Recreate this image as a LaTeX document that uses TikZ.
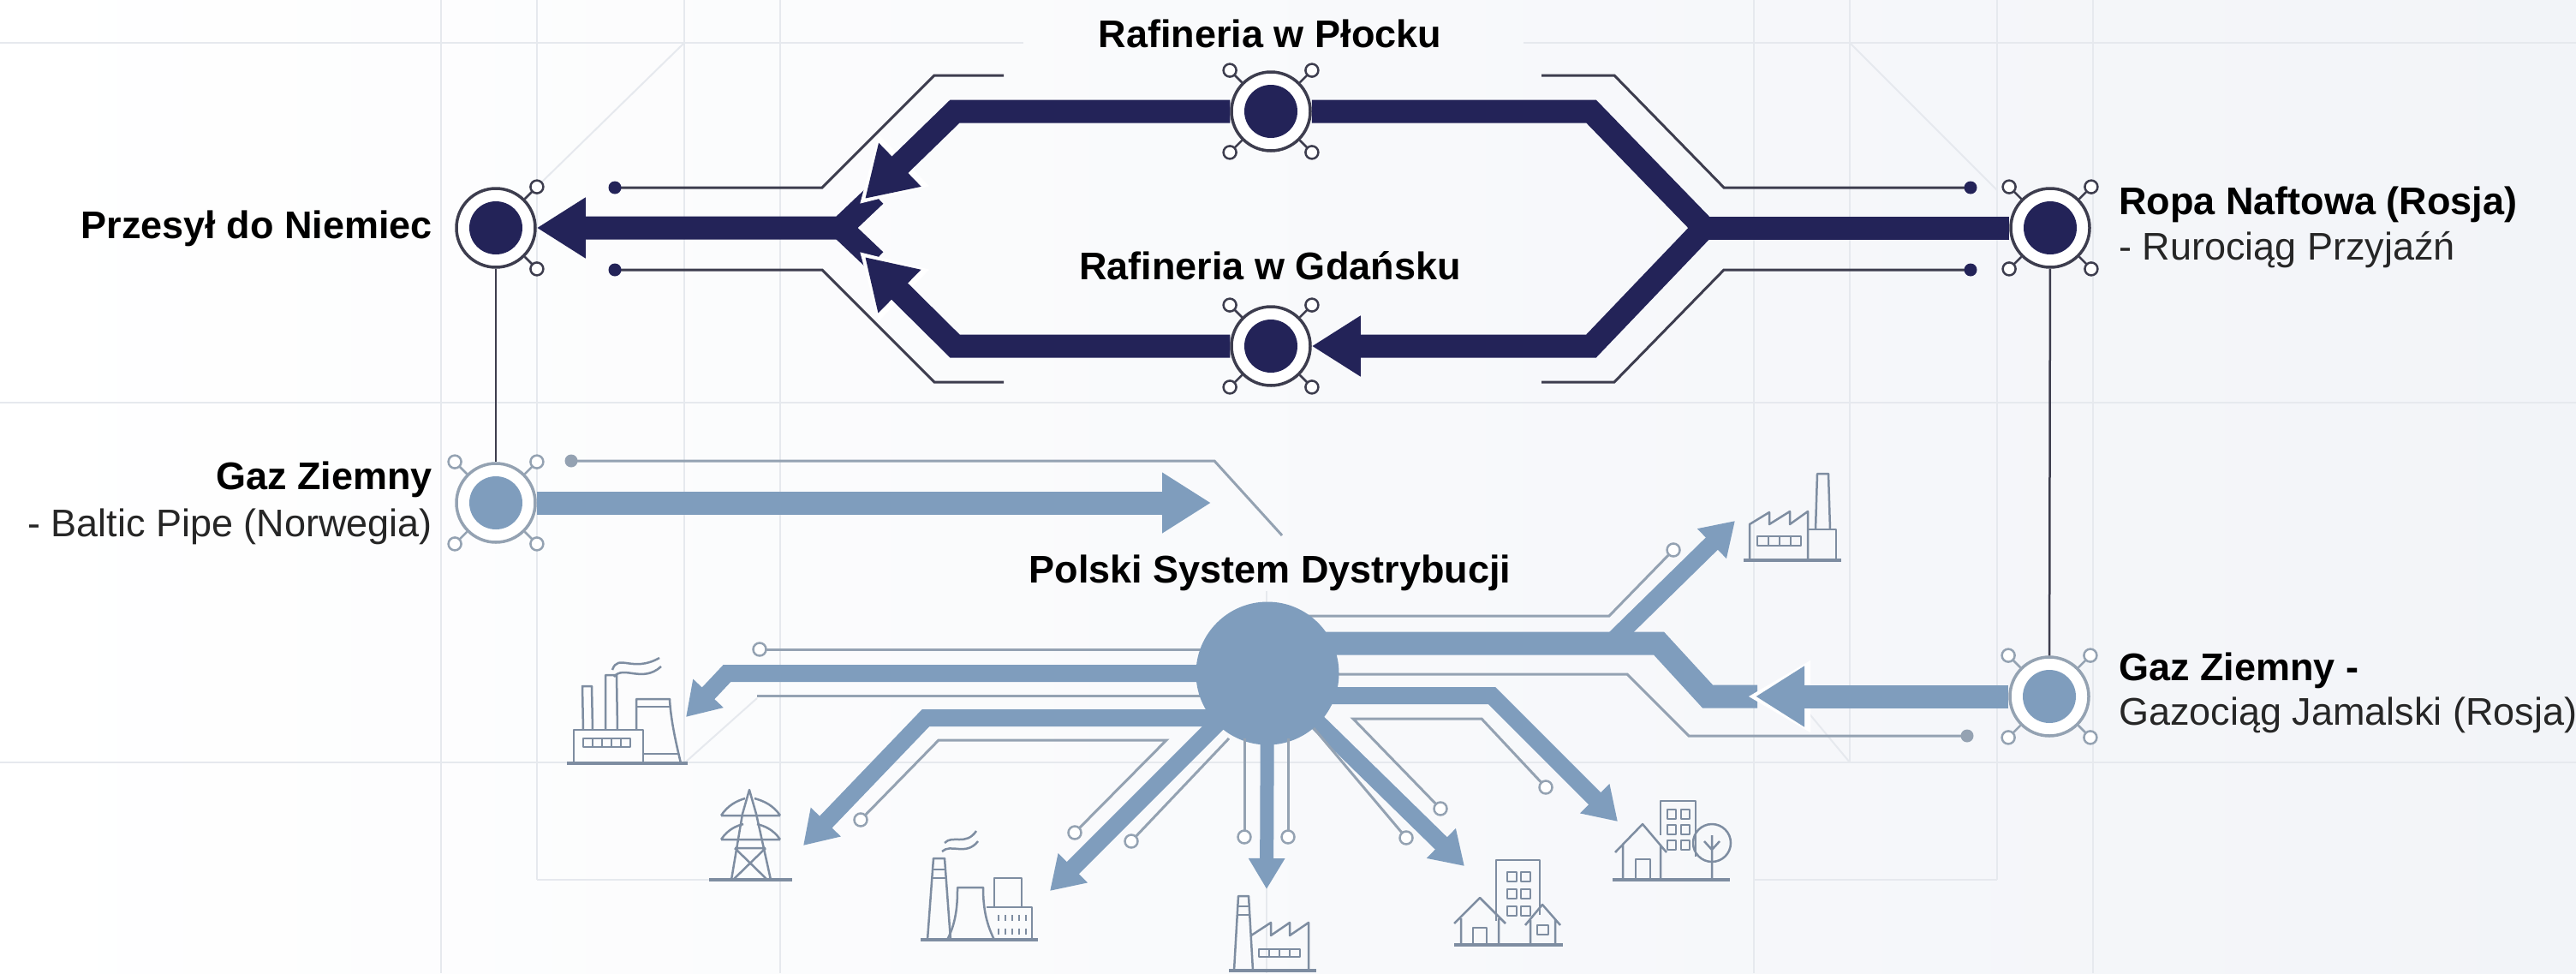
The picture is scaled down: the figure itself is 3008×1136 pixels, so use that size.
\documentclass[tikz,border=0pt]{standalone}
\usepackage{fontspec}
\setmainfont{Liberation Sans}
\usetikzlibrary{arrows.meta,backgrounds}
\definecolor{navy}{HTML}{232358}
\definecolor{steel}{HTML}{7F9DBD}
\definecolor{wire}{HTML}{3D3D4E}
\definecolor{wirelight}{HTML}{94A2B2}
\definecolor{iconline}{HTML}{7E8DA1}
\definecolor{gridline}{HTML}{E6E9EE}
\definecolor{bgright}{HTML}{F2F4F8}
\tikzset{
  ring/.style={circle,draw=#1,line width=3.5pt,fill=white,minimum size=92pt,inner sep=0pt},
  core/.style={circle,fill=#1,minimum size=62pt,inner sep=0pt},
  spur/.style={draw=#1,line width=2.5pt},
  tipring/.style={circle,draw=#1,line width=2.5pt,fill=white,minimum size=15pt,inner sep=0pt},
  dot/.style={circle,fill=#1,minimum size=15pt,inner sep=0pt},
  flow/.style={draw=#1,line width=27pt,-{Triangle[length=57pt,width=67pt,fill=#1]}},
  flowplain/.style={draw=#1,line width=27pt},
  branch/.style={draw=steel,line width=20pt,-{Triangle[length=38pt,width=46pt,fill=steel]}},
  halo/.style={draw=white,line width=1pt,shorten >=-8pt,-{Triangle[length=72pt,width=84pt,fill=white]}},
  wiredark/.style={draw=wire,line width=3pt},
  wirepale/.style={draw=wirelight,line width=3pt},
  icon/.style={draw=iconline,line width=2.5pt,line join=round},
  iconbase/.style={draw=iconline,line width=4pt},
  grid/.style={draw=gridline,line width=2pt},
  bold/.style={font=\bfseries\fontsize{45}{45}\selectfont,inner sep=0pt,text=black},
  light/.style={font=\fontsize{45}{45}\selectfont,inner sep=0pt,text=black!85}
}
\begin{document}
\begin{tikzpicture}[x=1pt,y=-1pt,>=latex]
\useasboundingbox (0,0) rectangle (3008,1136);

\foreach \n/\px/\py/\c/\s in {niemcy/579/266/navy/wire,plock/1484/130/navy/wire,gdansk/1484/404/navy/wire,ropa/2394/266/navy/wire,baltic/579/587/steel/wirelight,jamal/2393/813/steel/wirelight}
{
    \node[ring=\s] (\n) at (\px,\py) {};
    \node[core=\c] (\n core) at (\n) {};
}
\node[circle,fill=steel,minimum size=167pt,inner sep=0pt] (hub) at (1480,786) {};

\begin{scope}[on background layer]
\shade[left color=white,right color=bgright] (0,0) rectangle (3008,1136);
\foreach \x in {515,911,2048,2444}
    \draw[grid] (\x,0) -- (\x,1136);
\foreach \x in {799,2160}
    \draw[grid] (\x,0) -- (\x,890);
\foreach \x in {627,2332}
    \draw[grid] (\x,0) -- (\x,1027);
\draw[grid] (1479,690) -- (1479,1136);
\draw[grid] (0,50) -- (1195,50);
\draw[grid] (1779,50) -- (3008,50);
\draw[grid] (0,470) -- (3008,470);
\draw[grid] (0,890) -- (3008,890);
\draw[grid] (627,1027) -- (830,1027);
\draw[grid] (2048,1027) -- (2332,1027);
\draw[grid] (799,50) -- (627,218);
\draw[grid] (2160,50) -- (2332,222);
\draw[grid] (884,815) -- (800,890);
\draw[grid] (2160,890) -- (2110,830);

% lines that run into the hub
\coordinate (hubA) at (1480,751);
\coordinate (hubB) at (1480,812);
\coordinate (hubC) at (1480,786);
\coordinate (hubD) at (1480,838);
\draw[flowplain=steel] (hubA) -- (1937,751) -- (1994,813) -- (2052,813);
\draw[branch] (1880,751) -- (2026,608);
\draw[branch] (hubB) -- (1742,812) -- (1889,959);
\draw[branch] (hubC) -- (1710,1011);
\draw[branch] (hubC) -- (849,786) -- (801,837);
\draw[branch] (hubD) -- (1081,838) -- (938,987);
\draw[branch] (hubC) -- (1226,1040);
\draw[draw=steel,line width=16pt,-{Triangle[length=36pt,width=40pt,fill=steel]}] (hubC) -- (1479,1038);
\draw[wirepale] (1480,719) -- (1879,719) -- (1954,642) node[tipring=wirelight] (tipE) {};
\draw[wirepale] (1480,787) -- (1900,787) -- (1972,859) -- (2297,859) node[dot=wirelight] (dotE) {};
\draw[wirepale] (1480,758) -- (887,758) node[tipring=wirelight] (tipW) {};
\draw[wirepale] (1480,812) -- (884,812);
\end{scope}

% crude top loop
\coordinate (jR) at (1990,266);
\coordinate (jL) at (982,266);
\coordinate (chevU) at (1022,228);
\coordinate (chevD) at (1022,304);
\coordinate (tipU) at (1010,232);
\coordinate (tipD) at (1010,300);
\draw[flowplain=navy] (ropa) -- (jR);
\draw[flowplain=navy] (plock) -- (1858,130) -- (jR);
\draw[flow=navy] (jR) -- (1858,404) -- (gdansk);
\draw[flowplain=navy] (chevD) -- (jL);
\draw[flow=navy] (chevU) -- (jL) -- (niemcy);
\draw[halo] (1060,183) -- (tipU);
\draw[halo] (1060,349) -- (tipD);
\draw[flow=navy] (plock) -- (1115,130) -- (tipU);
\draw[flow=navy] (gdansk) -- (1115,404) -- (tipD);

\draw[wiredark] (1172,88) -- (1091,88) -- (960,219) -- (718,219) node[dot=navy] (dotNW) {};
\draw[wiredark] (1172,446) -- (1091,446) -- (960,315) -- (718,315) node[dot=navy] (dotSW) {};
\draw[wiredark] (1800,88) -- (1885,88) -- (2013,219) -- (2301,219) node[dot=navy] (dotNE) {};
\draw[wiredark] (1800,446) -- (1885,446) -- (2013,315) -- (2301,315) node[dot=navy] (dotSE) {};
\draw[draw=wire,line width=2.5pt] (niemcy) -- (baltic);
\draw[draw=wire,line width=2.5pt] (ropa) -- (jamal);

\draw[flow=steel] (baltic) -- (1414,587);
\draw[wirepale] (1497,625) -- (1418,538) -- (667,538) node[dot=wirelight] (dotB) {};
\draw[halo] (2100,813) -- (2050,813);
\draw[flow=steel] (jamal) -- (2050,813);

% thin wires below the hub
\draw[wirepale] (1805,919) node[tipring=wirelight] (tipF) {} -- (1730,839) -- (1580,839) -- (1682,944) node[tipring=wirelight] (tipG) {};
\draw[wirepale] (hub) -- (1642,978) node[tipring=wirelight] (tipH) {};
\draw[wirepale] (1005,957) node[tipring=wirelight] (tipK) {} -- (1096,864) -- (1362,864) -- (1255,972) node[tipring=wirelight] (tipL) {};
\draw[wirepale] (1435,862) -- (1321,982) node[tipring=wirelight] (tipM) {};
\foreach \x in {1453,1504}
    \draw[wirepale] (\x,862) -- (\x,977) node[tipring=wirelight] (tipV\x) {};

% spurs
\foreach \n/\c in {plock/wire,gdansk/wire,ropa/wire,baltic/wirelight,jamal/wirelight}
{
    \foreach \a in {45,135,225,315}
        \draw[spur=\c] (\n.\a) -- ++(-\a:20) node[tipring=\c] (\n tip\a) {};
}
\foreach \a in {45,315}
    \draw[spur=wire] (niemcy.\a) -- ++(-\a:20) node[tipring=wire] (niemcy tip\a) {};

% labels
\node[bold] (plockname) at (1483,39) {Rafineria w Płocku};
\node[bold] (gdanskname) at (1483,310) {Rafineria w Gdańsku};
\node[bold,anchor=east] (niemcyname) at (505,267) {Przesył do Niemiec};
\node[bold,anchor=east] (balticname) at (505,560) {Gaz Ziemny};
\node[light,anchor=east] (balticsub) at (505,615) {- Baltic Pipe (Norwegia)};
\node[bold,anchor=west] (ropaname) at (2474,239) {Ropa Naftowa (Rosja)};
\node[light,anchor=west] (ropasub) at (2474,292) {- Rurociąg Przyjaźń};
\node[bold,anchor=west] (jamalname) at (2474,783) {Gaz Ziemny -};
\node[light,anchor=west] (jamalsub) at (2474,835) {Gazociąg Jamalski (Rosja)};
\node[bold] (hubname) at (1483,669) {Polski System Dystrybucji};

% plant, left
\draw[iconbase] (662,891) -- (803,891);
\draw[icon] (670,891) -- (670,852) -- (751,852) -- (751,891);
\draw[icon] (681,852) -- (680,801) -- (691,801) -- (692,852);
\draw[icon] (707,852) -- (707,788) -- (720,788) -- (721,852);
\draw[icon] (743,852) -- (743,816) -- (782,816) .. controls (783,840) and (790,870) .. (795,891);
\draw[icon] (743,825) -- (782,825);
\draw[icon] (751,880) -- (792,880);
\draw[icon] (681,862) rectangle (736,872);
\foreach \x in {692,703,714,725}
    \draw[icon] (\x,862) -- (\x,872);
\draw[icon] (715,782) .. controls (722,762) and (738,786) .. (770,768);
\draw[icon] (717,790) .. controls (728,776) and (750,798) .. (772,778);

% pylon
\draw[iconbase] (828,1027) -- (925,1027);
\draw[icon] (854,1027) -- (867,950) -- (875,922) -- (883,950) -- (900,1027);
\draw[icon] (842,952) -- (911,952) (842,952) .. controls (850,940) and (860,935) .. (870,932) (911,952) .. controls (903,940) and (892,935) .. (881,932);
\draw[icon] (842,980) -- (911,980) (842,980) .. controls (850,968) and (860,964) .. (868,962) (911,980) .. controls (903,968) and (892,964) .. (884,962);
\draw[icon] (858,990) -- (896,1027) (894,990) -- (856,1027) (858,990) -- (894,990);

% plant, middle
\draw[iconbase] (1075,1097) -- (1212,1097);
\draw[icon] (1083,1097) -- (1090,1002) -- (1103,1002) -- (1110,1097);
\draw[icon] (1089,1015) -- (1104,1015) (1088,1025) -- (1105,1025);
\draw[icon] (1106,1097) .. controls (1118,1075) and (1118,1050) .. (1118,1036) -- (1148,1036) .. controls (1148,1055) and (1150,1075) .. (1161,1097);
\draw[icon] (1161,1059) -- (1161,1025) -- (1193,1025) -- (1193,1059);
\draw[icon] (1152,1059) -- (1205,1059) -- (1205,1097);
\foreach \x in {1166,1174,1182,1190,1198}
{
    \draw[icon] (\x,1068) -- (\x,1075);
    \draw[icon] (\x,1084) -- (\x,1091);
}
\draw[icon] (1103,984) .. controls (1112,974) and (1128,988) .. (1140,970);
\draw[icon] (1100,994) .. controls (1110,984) and (1128,1000) .. (1142,982);

% factory, bottom
\draw[iconbase] (1435,1133) -- (1537,1133);
\draw[icon] (1441,1133) -- (1446,1046) -- (1458,1046) -- (1463,1133);
\draw[icon] (1446,1058) -- (1458,1058) (1445,1068) -- (1459,1068);
\draw[icon] (1461,1092) -- (1484,1077) -- (1484,1092) -- (1506,1077) -- (1506,1092) -- (1528,1077) -- (1528,1133);
\draw[icon] (1470,1108) rectangle (1518,1117);
\foreach \x in {1482,1494,1506}
    \draw[icon] (\x,1108) -- (\x,1117);

% houses, bottom
\draw[iconbase] (1698,1103) -- (1825,1103);
\draw[icon] (1747,1075) -- (1747,1004) -- (1798,1004) -- (1798,1068);
\foreach \x in {1760,1776}
    \foreach \y in {1018,1038,1058}
        \draw[icon] (\x,\y) rectangle +(11,11);
\draw[icon] (1698,1078) -- (1728,1048) -- (1758,1078) (1706,1103) -- (1706,1072) (1750,1103) -- (1750,1072);
\draw[icon] (1720,1103) -- (1720,1083) -- (1736,1083) -- (1736,1103);
\draw[icon] (1781,1080) -- (1801,1056) -- (1822,1080) (1787,1103) -- (1787,1074) (1816,1103) -- (1816,1074);
\draw[icon] (1795,1080) rectangle (1808,1091);

% houses and tree
\draw[iconbase] (1883,1027) -- (2020,1027);
\draw[icon] (1939,975) -- (1939,935) -- (1980,935) -- (1980,1000);
\foreach \x in {1947,1963}
    \foreach \y in {945,963,981}
        \draw[icon] (\x,\y) rectangle +(10,11);
\draw[icon] (1886,995) -- (1918,962) -- (1946,995) (1895,1027) -- (1895,986) (1939,1027) -- (1939,986);
\draw[icon] (1910,1027) -- (1910,1003) -- (1927,1003) -- (1927,1027);
\draw[icon] (1999,984) circle (22);
\draw[icon] (1999,1027) -- (1999,975) (1999,992) -- (1990,982) (1999,992) -- (2008,982);

% factory, top
\draw[iconbase] (2036,654) -- (2150,654);
\draw[icon] (2043,654) -- (2043,612) -- (2066,598) -- (2066,612) -- (2090,597) -- (2090,612) -- (2111,597) -- (2111,654);
\draw[icon] (2111,618) -- (2144,618) -- (2144,654);
\draw[icon] (2120,618) -- (2122,553) -- (2135,553) -- (2137,618);
\draw[icon] (2052,626) rectangle (2103,637);
\foreach \x in {2065,2078,2091}
    \draw[icon] (\x,626) -- (\x,637);
\end{tikzpicture}
\end{document}
